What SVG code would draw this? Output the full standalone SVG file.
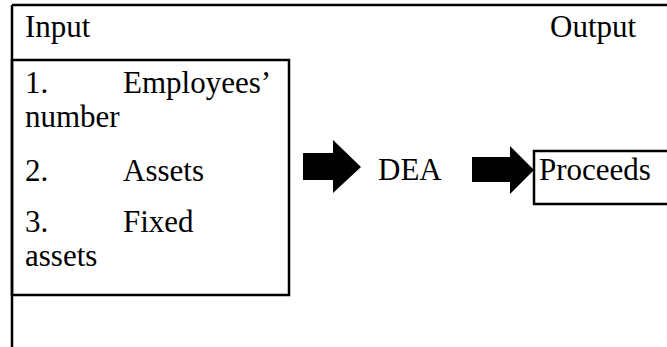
<svg xmlns="http://www.w3.org/2000/svg" width="667" height="347" viewBox="0 0 667 347">
  <style>
    text { font-family: "Liberation Serif", "Times New Roman", serif; font-size: 31px; fill: #000; }
    .box { fill: none; stroke: #000; stroke-width: 2.5; }
    .rule { fill: none; stroke: #000; stroke-width: 2.5; }
    .arrow { fill: #000; stroke: none; }
  </style>
  <rect width="667" height="347" fill="#fff"/>

  <!-- table cell borders -->
  <g id="frame">
    <path class="rule" d="M12 5 H667 M12 5 V347"/>
  </g>

  <!-- column headings -->
  <g id="headings">
    <text x="25" y="37">Input</text>
    <text x="550" y="37">Output</text>
  </g>

  <!-- input variables -->
  <g id="input">
    <rect class="box" x="12" y="60" width="277" height="235"/>
    <text x="25" y="93">1.</text>
    <text x="123" y="93">Employees’</text>
    <text x="25" y="127">number</text>
    <text x="25" y="181">2.</text>
    <text x="123" y="181">Assets</text>
    <text x="25" y="232">3.</text>
    <text x="123" y="232">Fixed</text>
    <text x="25" y="266">assets</text>
  </g>

  <!-- model -->
  <g id="dea">
    <text x="378" y="180">DEA</text>
  </g>

  <!-- output variable -->
  <g id="proceeds">
    <rect class="box" x="534" y="151" width="140" height="53"/>
    <text x="539" y="180">Proceeds</text>
  </g>

  <!-- block arrows -->
  <g id="connectors">
    <polygon class="arrow" points="303,153 333,153 333,140 361,167 333,193 333,180 303,180"/>
    <polygon class="arrow" points="472,157 510,157 510,146 534,170 510,194 510,182 472,182"/>
  </g>
</svg>
